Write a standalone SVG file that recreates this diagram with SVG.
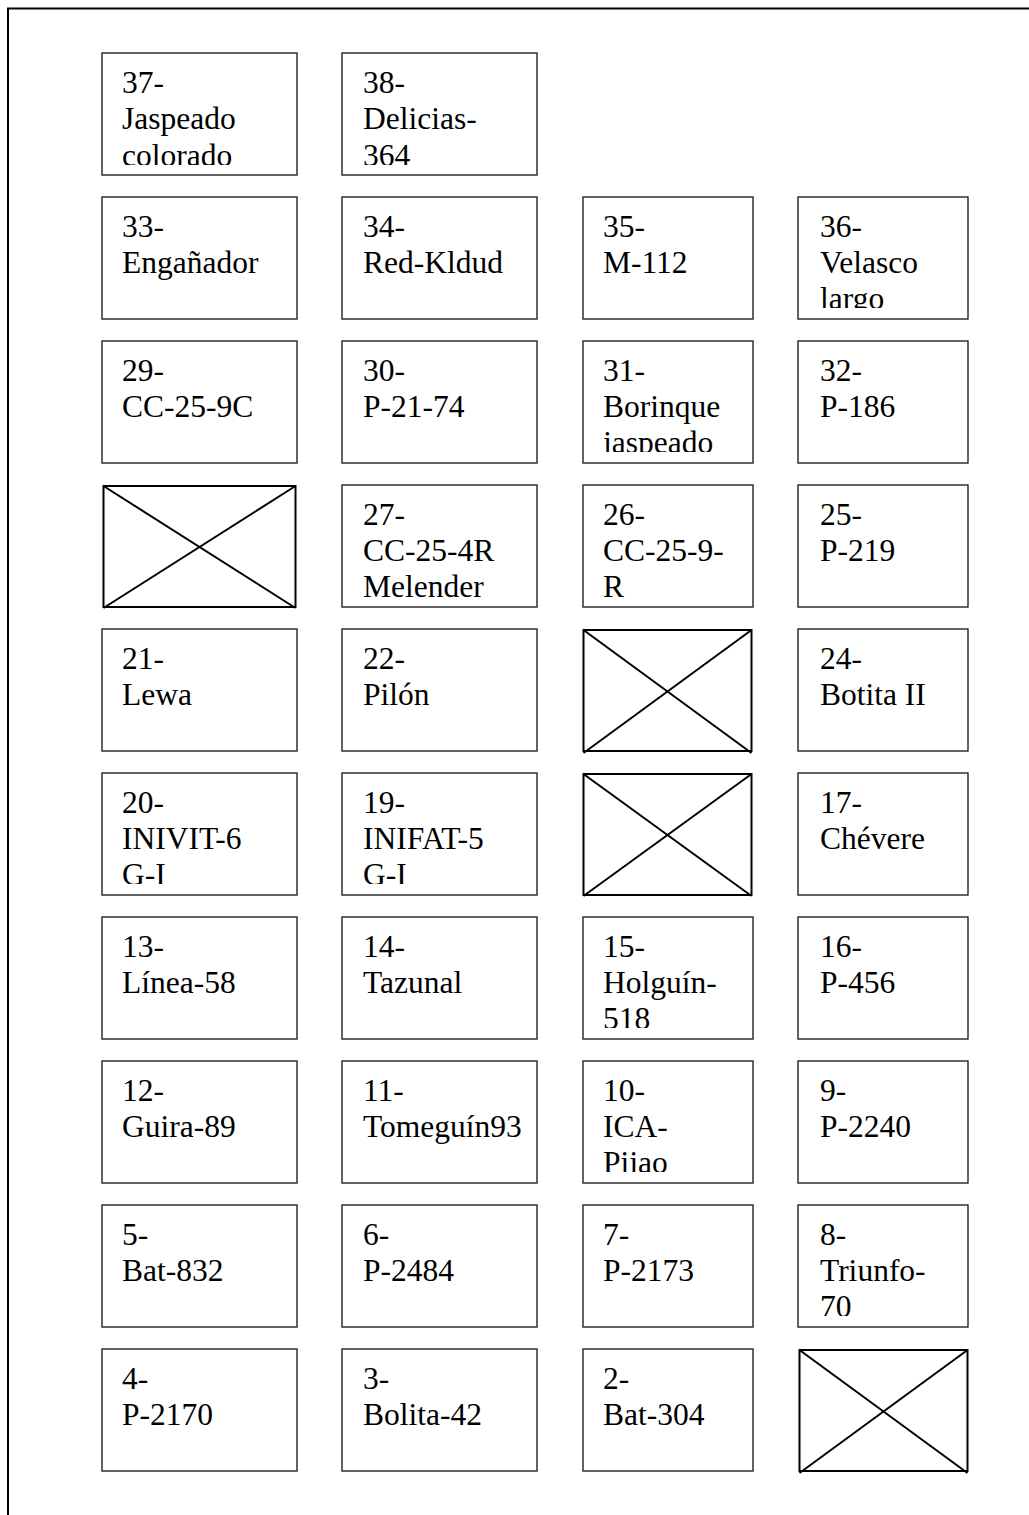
<svg xmlns="http://www.w3.org/2000/svg" width="1029" height="1515" viewBox="0 0 1029 1515">
<style>
.box{fill:#fff;stroke:#222;stroke-width:1.4}
.xbox{fill:#fff;stroke:#000;stroke-width:2}
.x{stroke:#000;stroke-width:2}
text{font-family:"Liberation Serif","Times New Roman",serif;font-size:31.5px;fill:#000}
</style>
<defs>
<clipPath id="r1"><rect x="0" y="53" width="1029" height="112"/></clipPath>
<clipPath id="r2"><rect x="0" y="197" width="1029" height="111"/></clipPath>
<clipPath id="r3"><rect x="0" y="341" width="1029" height="111"/></clipPath>
<clipPath id="r4"><rect x="0" y="485" width="1029" height="113"/></clipPath>
<clipPath id="r6"><rect x="0" y="773" width="1029" height="111"/></clipPath>
<clipPath id="r7"><rect x="0" y="917" width="1029" height="111"/></clipPath>
<clipPath id="r8"><rect x="0" y="1061" width="1029" height="111"/></clipPath>
<clipPath id="r9"><rect x="0" y="1205" width="1029" height="111"/></clipPath>
</defs>
<rect width="1029" height="1515" fill="#fff"/>
<path d="M8,1515 V8.5 H1029" fill="none" stroke="#000" stroke-width="2"/>

<!-- Row 1 -->
<g id="n37"><rect class="box" x="102" y="53" width="195" height="122"/><g clip-path="url(#r1)"><text x="122" y="93">37-</text><text x="122" y="129">Jaspeado</text><text x="122" y="166">colorado</text></g></g>
<g id="n38"><rect class="box" x="342" y="53" width="195" height="122"/><g clip-path="url(#r1)"><text x="363" y="93">38-</text><text x="363" y="129">Delicias-</text><text x="363" y="166">364</text></g></g>

<!-- Row 2 -->
<g id="n33"><rect class="box" x="102" y="197" width="195" height="122"/><text x="122" y="237">33-</text><text x="122" y="273">Engañador</text></g>
<g id="n34"><rect class="box" x="342" y="197" width="195" height="122"/><text x="363" y="237">34-</text><text x="363" y="273">Red-Kldud</text></g>
<g id="n35"><rect class="box" x="583" y="197" width="170" height="122"/><text x="603" y="237">35-</text><text x="603" y="273">M-112</text></g>
<g id="n36"><rect class="box" x="798" y="197" width="170" height="122"/><g clip-path="url(#r2)"><text x="820" y="237">36-</text><text x="820" y="273">Velasco</text><text x="820" y="309">largo</text></g></g>

<!-- Row 3 -->
<g id="n29"><rect class="box" x="102" y="341" width="195" height="122"/><text x="122" y="381">29-</text><text x="122" y="417">CC-25-9C</text></g>
<g id="n30"><rect class="box" x="342" y="341" width="195" height="122"/><text x="363" y="381">30-</text><text x="363" y="417">P-21-74</text></g>
<g id="n31"><rect class="box" x="583" y="341" width="170" height="122"/><g clip-path="url(#r3)"><text x="603" y="381">31-</text><text x="603" y="417">Borinque</text><text x="603" y="453">jaspeado</text></g></g>
<g id="n32"><rect class="box" x="798" y="341" width="170" height="122"/><text x="820" y="381">32-</text><text x="820" y="417">P-186</text></g>

<!-- Row 4 -->
<g id="x28"><rect class="xbox" x="103.5" y="486" width="192" height="121"/><line class="x" x1="103.5" y1="486" x2="295.5" y2="608"/><line class="x" x1="295.5" y1="486" x2="103.5" y2="608"/></g>
<g id="n27"><rect class="box" x="342" y="485" width="195" height="122"/><g clip-path="url(#r4)"><text x="363" y="525">27-</text><text x="363" y="561">CC-25-4R</text><text x="363" y="597">Melender</text></g></g>
<g id="n26"><rect class="box" x="583" y="485" width="170" height="122"/><g clip-path="url(#r4)"><text x="603" y="525">26-</text><text x="603" y="561">CC-25-9-</text><text x="603" y="597">R</text></g></g>
<g id="n25"><rect class="box" x="798" y="485" width="170" height="122"/><text x="820" y="525">25-</text><text x="820" y="561">P-219</text></g>

<!-- Row 5 -->
<g id="n21"><rect class="box" x="102" y="629" width="195" height="122"/><text x="122" y="669">21-</text><text x="122" y="705">Lewa</text></g>
<g id="n22"><rect class="box" x="342" y="629" width="195" height="122"/><text x="363" y="669">22-</text><text x="363" y="705">Pilón</text></g>
<g id="x23"><rect class="xbox" x="583.5" y="630" width="168" height="121"/><line class="x" x1="583.5" y1="630" x2="751.5" y2="753"/><line class="x" x1="751.5" y1="630" x2="583.5" y2="753"/></g>
<g id="n24"><rect class="box" x="798" y="629" width="170" height="122"/><text x="820" y="669">24-</text><text x="820" y="705">Botita II</text></g>

<!-- Row 6 -->
<g id="n20"><rect class="box" x="102" y="773" width="195" height="122"/><g clip-path="url(#r6)"><text x="122" y="813">20-</text><text x="122" y="849">INIVIT-6</text><text x="122" y="885">G-I</text></g></g>
<g id="n19"><rect class="box" x="342" y="773" width="195" height="122"/><g clip-path="url(#r6)"><text x="363" y="813">19-</text><text x="363" y="849">INIFAT-5</text><text x="363" y="885">G-I</text></g></g>
<g id="x18"><rect class="xbox" x="583.5" y="774" width="168" height="121"/><line class="x" x1="583.5" y1="774" x2="751.5" y2="896"/><line class="x" x1="751.5" y1="774" x2="583.5" y2="896"/></g>
<g id="n17"><rect class="box" x="798" y="773" width="170" height="122"/><text x="820" y="813">17-</text><text x="820" y="849">Chévere</text></g>

<!-- Row 7 -->
<g id="n13"><rect class="box" x="102" y="917" width="195" height="122"/><text x="122" y="957">13-</text><text x="122" y="993">Línea-58</text></g>
<g id="n14"><rect class="box" x="342" y="917" width="195" height="122"/><text x="363" y="957">14-</text><text x="363" y="993">Tazunal</text></g>
<g id="n15"><rect class="box" x="583" y="917" width="170" height="122"/><g clip-path="url(#r7)"><text x="603" y="957">15-</text><text x="603" y="993">Holguín-</text><text x="603" y="1029">518</text></g></g>
<g id="n16"><rect class="box" x="798" y="917" width="170" height="122"/><text x="820" y="957">16-</text><text x="820" y="993">P-456</text></g>

<!-- Row 8 -->
<g id="n12"><rect class="box" x="102" y="1061" width="195" height="122"/><text x="122" y="1101">12-</text><text x="122" y="1137">Guira-89</text></g>
<g id="n11"><rect class="box" x="342" y="1061" width="195" height="122"/><text x="363" y="1101">11-</text><text x="363" y="1137">Tomeguín93</text></g>
<g id="n10"><rect class="box" x="583" y="1061" width="170" height="122"/><g clip-path="url(#r8)"><text x="603" y="1101">10-</text><text x="603" y="1137">ICA-</text><text x="603" y="1173">Pijao</text></g></g>
<g id="n9"><rect class="box" x="798" y="1061" width="170" height="122"/><text x="820" y="1101">9-</text><text x="820" y="1137">P-2240</text></g>

<!-- Row 9 -->
<g id="n5"><rect class="box" x="102" y="1205" width="195" height="122"/><text x="122" y="1245">5-</text><text x="122" y="1281">Bat-832</text></g>
<g id="n6"><rect class="box" x="342" y="1205" width="195" height="122"/><text x="363" y="1245">6-</text><text x="363" y="1281">P-2484</text></g>
<g id="n7"><rect class="box" x="583" y="1205" width="170" height="122"/><text x="603" y="1245">7-</text><text x="603" y="1281">P-2173</text></g>
<g id="n8"><rect class="box" x="798" y="1205" width="170" height="122"/><g clip-path="url(#r9)"><text x="820" y="1245">8-</text><text x="820" y="1281">Triunfo-</text><text x="820" y="1317">70</text></g></g>

<!-- Row 10 -->
<g id="n4"><rect class="box" x="102" y="1349" width="195" height="122"/><text x="122" y="1389">4-</text><text x="122" y="1425">P-2170</text></g>
<g id="n3"><rect class="box" x="342" y="1349" width="195" height="122"/><text x="363" y="1389">3-</text><text x="363" y="1425">Bolita-42</text></g>
<g id="n2"><rect class="box" x="583" y="1349" width="170" height="122"/><text x="603" y="1389">2-</text><text x="603" y="1425">Bat-304</text></g>
<g id="x1"><rect class="xbox" x="799.5" y="1350" width="168" height="121"/><line class="x" x1="799.5" y1="1350" x2="967.5" y2="1473"/><line class="x" x1="967.5" y1="1350" x2="799.5" y2="1473"/></g>

<g id="connectors"></g>
</svg>
